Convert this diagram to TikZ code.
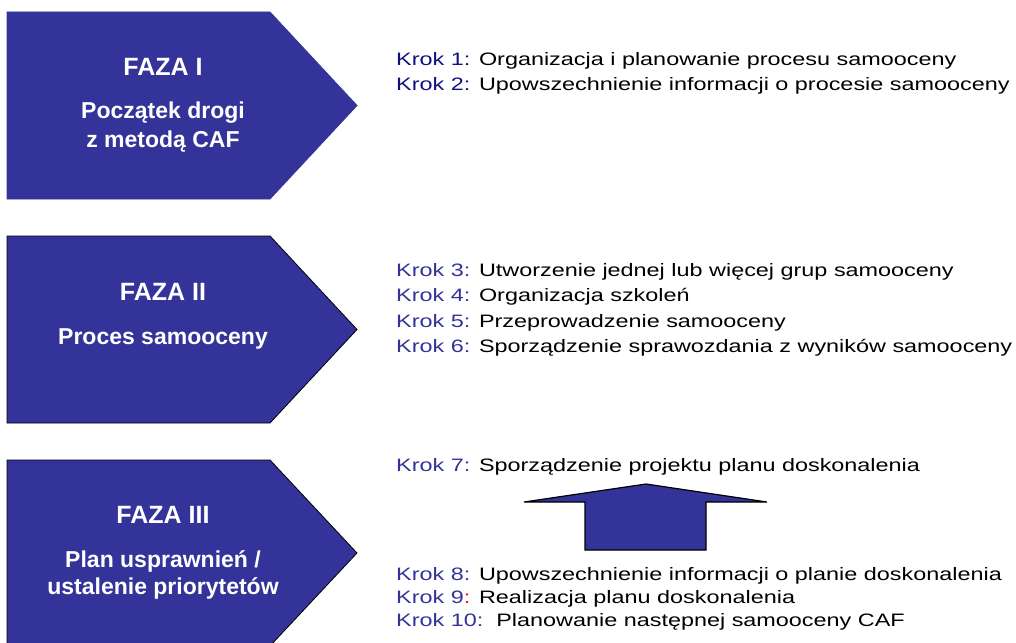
\documentclass[tikz,border=0pt]{standalone}
\usepackage{fontspec}
\setmainfont{Liberation Sans}
\newfontfamily\krokfont[FakeStretch=1.30]{Liberation Sans}
\usetikzlibrary{positioning}

\definecolor{fazablue}{RGB}{51,51,153}
\definecolor{krokdark}{RGB}{16,16,128}
\definecolor{krokblue}{RGB}{51,51,153}

\tikzset{
  faza/.style={fill=fazablue, draw=black, line width=0.8pt, line join=miter},
  fazatitle/.style={text=white, font=\bfseries\fontsize{25}{30}\selectfont, inner sep=0pt, anchor=base},
  fazasub/.style={text=white, font=\bfseries\fontsize{23}{28.5}\selectfont, inner sep=0pt, align=center, anchor=base},
  krok/.style={font=\krokfont\fontsize{18}{24}\selectfont, inner sep=0pt, anchor=base west},
  strzalka/.style={fill=fazablue, draw=black, line width=1.2pt},
}
\newcommand{\krokno}[2][krokblue]{\textcolor{#1}{Krok #2:}}

\begin{document}
\begin{tikzpicture}[x=1pt,y=-1pt]
\useasboundingbox (0,0) rectangle (1016,642);
\clip (0,0) rectangle (1016,642);

% fazy
\draw[faza, draw=fazablue] (7,12) -- (270,12) -- (357,105.5) -- (270,199) -- (7,199) -- cycle;
\draw[faza] (7,236) -- (270,236) -- (357,329.5) -- (270,423) -- (7,423) -- cycle;
\draw[faza] (7,460) -- (270,460) -- (357,553) -- (270,646) -- (7,646) -- cycle;

% base of a two-line node is its last line
\node[fazatitle] (f1) at (163,75) {FAZA I};
\node[fazasub] (s1) at ([yshift=-72pt]f1.base) {Początek drogi\\z metodą CAF};
\node[fazatitle] (f2) at (163,300) {FAZA II};
\node[fazasub] (s2) at ([yshift=-44pt]f2.base) {Proces samooceny};
\node[fazatitle] (f3) at (163,523) {FAZA III};
\node[fazasub, font=\bfseries\fontsize{23}{27}\selectfont] (s3) at ([yshift=-71pt]f3.base) {Plan usprawnień /\\ustalenie priorytetów};

% kroki
\node[krok] (k1) at (396,66) {\krokno[krokdark]{1} Organizacja i planowanie procesu samooceny};
\node[krok] (k2) at ([yshift=-24.3pt]k1.base west) {\krokno[krokdark]{2} Upowszechnienie informacji o procesie samooceny};

\node[krok] (k3) at (396,276) {\krokno{3} Utworzenie jednej lub więcej grup samooceny};
\node[krok] (k4) at ([yshift=-25.5pt]k3.base west) {\krokno{4} Organizacja szkoleń};
\node[krok] (k5) at ([yshift=-25.5pt]k4.base west) {\krokno{5} Przeprowadzenie samooceny};
\node[krok] (k6) at ([yshift=-25.5pt]k5.base west) {\krokno{6} Sporządzenie sprawozdania z wyników samooceny};

\node[krok] (k7) at (396,471) {\krokno{7} Sporządzenie projektu planu doskonalenia};
\node[krok] (k8) at (396,580) {\krokno{8} Upowszechnienie informacji o planie doskonalenia};
\node[krok] (k9) at ([yshift=-23pt]k8.base west) {\textcolor{krokblue}{Krok 9}\textcolor{red}{:} Realizacja planu doskonalenia};
\node[krok] (k10) at ([yshift=-23pt]k9.base west) {\krokno{10}\ \ Planowanie następnej samooceny CAF};

% strzalka w gore
\draw[strzalka] (646,484) -- (767,502) -- (706,502) -- (706,550) -- (585,550) -- (585,502) -- (524,502) -- cycle;
\end{tikzpicture}
\end{document}
